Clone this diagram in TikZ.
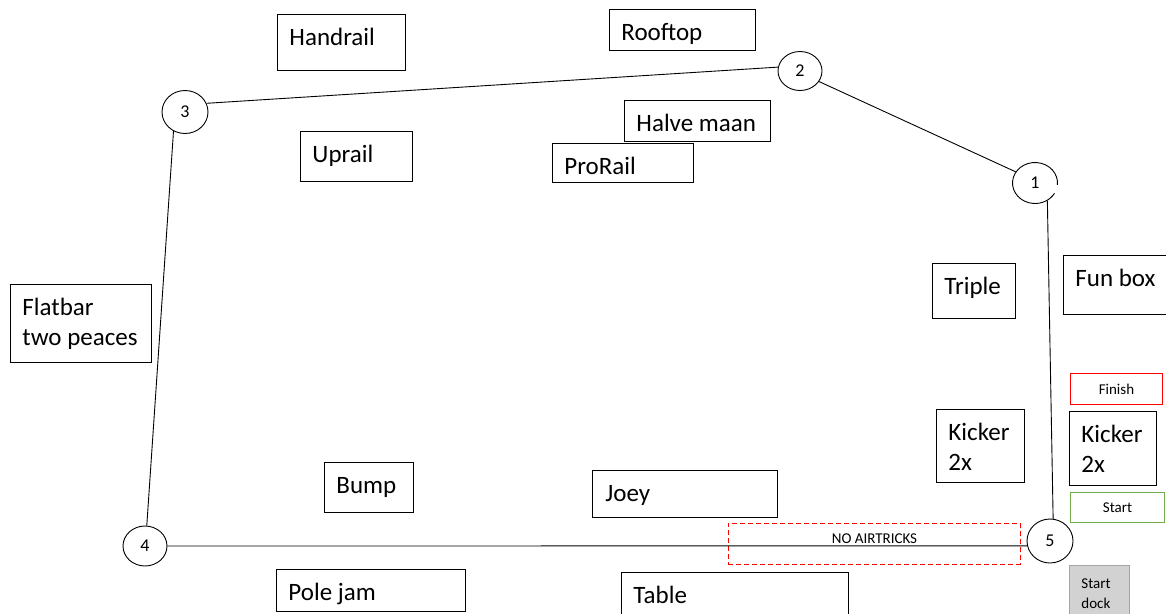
\documentclass[tikz,border=0pt]{standalone}
\usepackage{fontspec}
\setmainfont{Carlito}
\usepackage{tikz}
\usetikzlibrary{shapes.geometric}
\newcommand{\bigtxt}{\fontsize{25}{30}\selectfont}
\newcommand{\smalltxt}{\fontsize{15}{20}\selectfont}
\newcommand{\numtxt}{\fontsize{18}{20}\selectfont}
\definecolor{startgreen}{RGB}{112,173,71}
\definecolor{dockgrey}{RGB}{210,210,210}
\definecolor{dockline}{RGB}{165,165,165}
\tikzset{
  box/.style 2 args={draw, anchor=north west, align=flush left, inner xsep=12pt, inner ysep=0pt,
    text width=#1, text height=31pt, text depth=#2, font=\bigtxt},
  tag/.style 2 args={draw, anchor=north west, align=center, inner sep=0pt,
    minimum width=#1, minimum height=#2, font=\smalltxt},
  spot/.style={draw, ellipse, inner sep=0pt, font=\numtxt},
}
\begin{document}
\begin{tikzpicture}[x=1pt,y=1pt,line width=0.9pt]
\useasboundingbox (0,0) rectangle (1166,-613);

\node[box={104pt}{25pt}] (handrail) at (277,-14){Handrail};
\node[box={122pt}{10pt}] (rooftop) at (609,-9){Rooftop};
\node[box={122pt}{10pt}] (halvemaan) at (624,-100){Halve~maan};
\node[box={117pt}{8pt}] (prorail) at (552,-143){ProRail};
\node[box={88pt}{19pt}] (uprail) at (300,-131){Uprail};
\node[box={59pt}{24pt}] (triple) at (932,-263){Triple};
\node[box={96pt}{28pt}] (funbox) at (1063,-255){Fun~box};
\node[box={117pt}{47pt}] (flatbar) at (10,-284){Flatbar\\two~peaces};
\node[box={64pt}{42pt}] (kickera) at (936,-409){Kicker\\2x};
\node[box={63pt}{43pt}] (kickerb) at (1069,-411){Kicker\\2x};
\node[box={65pt}{19pt}] (bump) at (324,-462){Bump};
\node[box={159pt}{16pt}, inner xsep=13pt] (joey) at (592,-470){Joey};
\node[box={165pt}{11pt}] (polejam) at (276,-569){Pole~jam};
\node[box={203pt}{14pt}] (table) at (621,-572){Table};

\node[tag={92pt}{31pt}, draw=red] (finish) at (1070,-373){Finish};
\node[tag={94pt}{30pt}, draw=startgreen] (start) at (1070,-492){Start};
\node[tag={60pt}{56pt}, draw=dockline, fill=dockgrey, align=flush left, inner xsep=12pt, text width=36pt] (dock) at (1069,-565){Start\\dock};
\node[tag={292pt}{41pt}, draw=red, dash pattern=on 5pt off 3pt, text depth=10pt] (noair) at (728,-523){NO AIRTRICKS};

\node[spot, draw=none, minimum width=45pt, minimum height=41pt] (p1) at (1035,-183){1};
\draw ([shift={(-5:22.5pt and 20.5pt)}]p1.center) arc[start angle=-5, end angle=330, x radius=22.5pt, y radius=20.5pt];
\node[spot, minimum width=44pt, minimum height=39pt] (p2) at (800,-71){2};
\node[spot, minimum width=46pt, minimum height=43pt] (p3) at (185,-112){3};
\node[spot, minimum width=44pt, minimum height=40pt] (p4) at (145,-546){4};
\node[spot, minimum width=46pt, minimum height=44pt] (p5) at (1050,-541){5};

\draw (p3.22) -- (p2.170);
\draw (p2.-29) -- (p1.150);
\draw (p1.-55) -- (p5.82);
\draw (p5.192) -- (p4.0);
\draw (p4.85) -- (p3.-121);
\end{tikzpicture}
\end{document}
